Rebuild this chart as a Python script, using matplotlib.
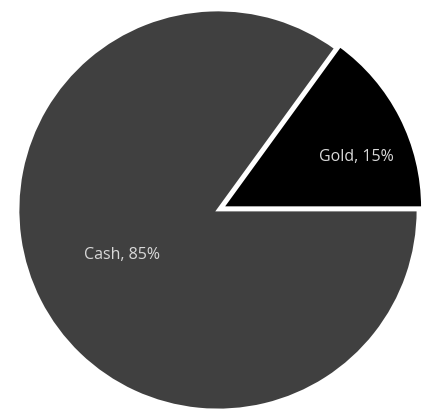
import numpy as np
import matplotlib
matplotlib.use("Agg")
import matplotlib.pyplot as plt

# Data
labels = ["Gold", "Cash"]
shares = [15, 85]
colors = ["#000000", "#404040"]
explode = [0.025, 0]

fig = plt.figure(figsize=(4.31, 4.11), dpi=100)
ax = fig.add_axes([18 / 431, 1 / 411, 400 / 431, 400 / 411])

wedges, _ = ax.pie(shares, colors=colors, explode=explode, startangle=0,
                   counterclock=True, radius=1,
                   wedgeprops=dict(edgecolor="white", linewidth=2))

# Labels inside slices
label_pos = {"Gold": (21, 0.74), "Cash": (205, 0.53)}
for name, val in zip(labels, shares):
    ang, r = label_pos[name]
    x = r * np.cos(np.radians(ang))
    y = r * np.sin(np.radians(ang))
    ax.text(x, y, f"{name}, {val}%", ha="center", va="center",
            color="#d9d9d9", fontsize=11.5, family="Open Sans")

ax.set_xlim(-1, 1)
ax.set_ylim(-1, 1)
ax.set_aspect("equal")
ax.axis("off")

fig.savefig("out.png", dpi=100)
